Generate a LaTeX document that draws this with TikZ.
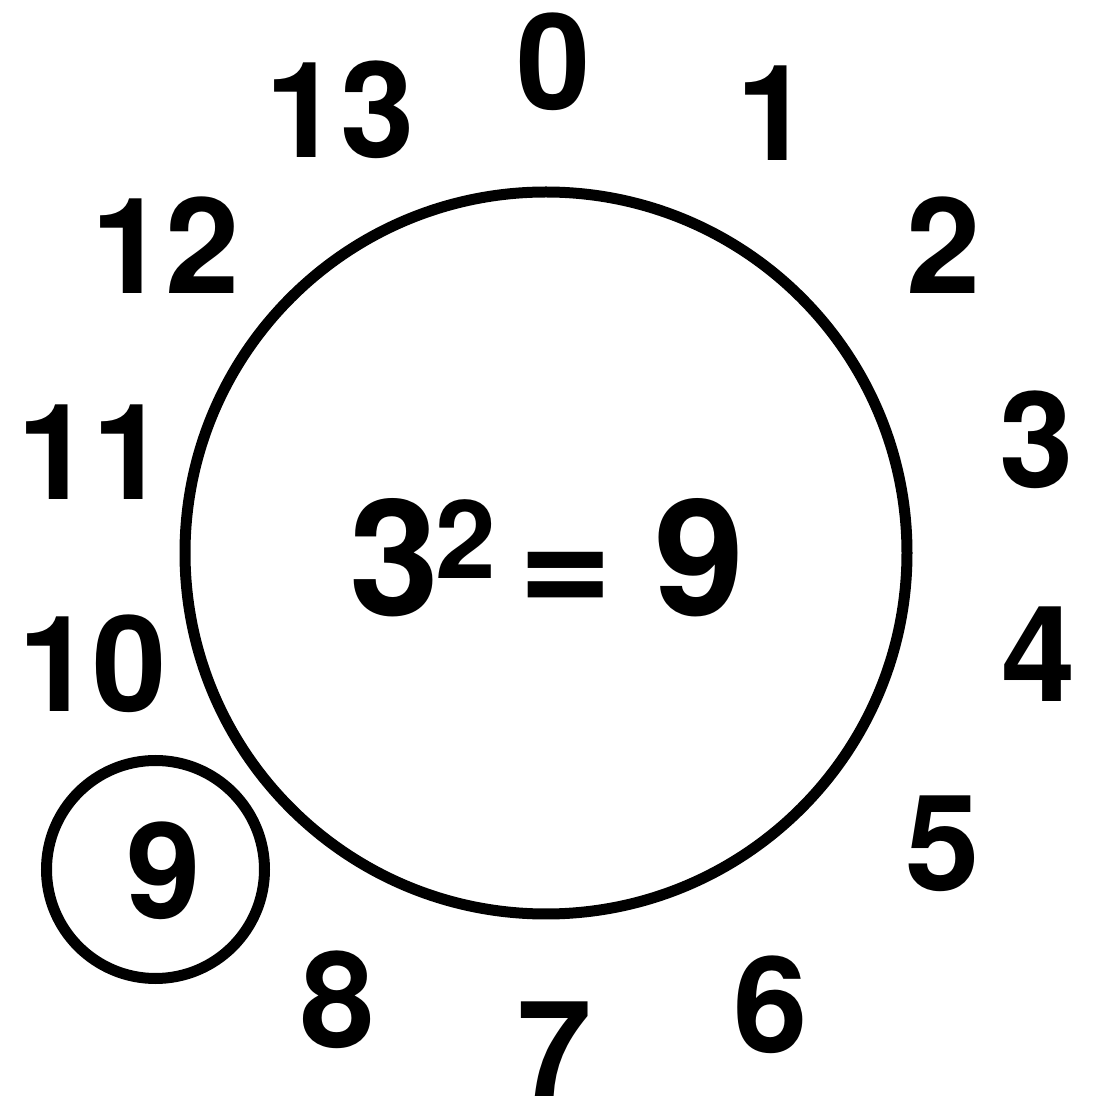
\documentclass[tikz,border=0pt]{standalone}
\usepackage{fontspec}
\setmainfont{TeX Gyre Heros}
\begin{document}
\begin{tikzpicture}[
    hour/.style={font=\fontsize{38}{38}\selectfont\bfseries, inner sep=0pt},
    ring/.style={draw, circle, line width=0.11cm, inner sep=0pt}]
  \useasboundingbox (0,0) rectangle (10.99,10.99);
  %% Dial
  \node[ring, minimum size=7.22cm] (dial) at (5.46,5.46) {};
  \node[font=\fontsize{46}{46}\selectfont\bfseries, inner sep=0pt] (eq) at (5.47,5.41)
    {3\kern-0.04cm\raisebox{0.37cm}{\fontsize{31}{31}\selectfont 2} \kern-0.23cm=\kern-0.03cm{} 9};
  %% Hours: {i}/{x}/{y} in px
  \foreach \i/\x/\y in {
    0/554/62, 1/774/113, 2/944/245, 3/1037/440, 4/1039/654,
    5/943/844, 6/771/1005, 7/555/1049, 8/338/1000, 9/164/871,
   10/93/664, 11/92/452, 12/166/245, 13/340/110}{
    \node[hour] (h\i) at ({\x/100}, {(1099-\y)/100}) {\i};
  }
  %% Answer mark
  \node[ring, minimum size=2.18cm] (mark) at (1.555,2.295) {};
\end{tikzpicture}
\end{document}
